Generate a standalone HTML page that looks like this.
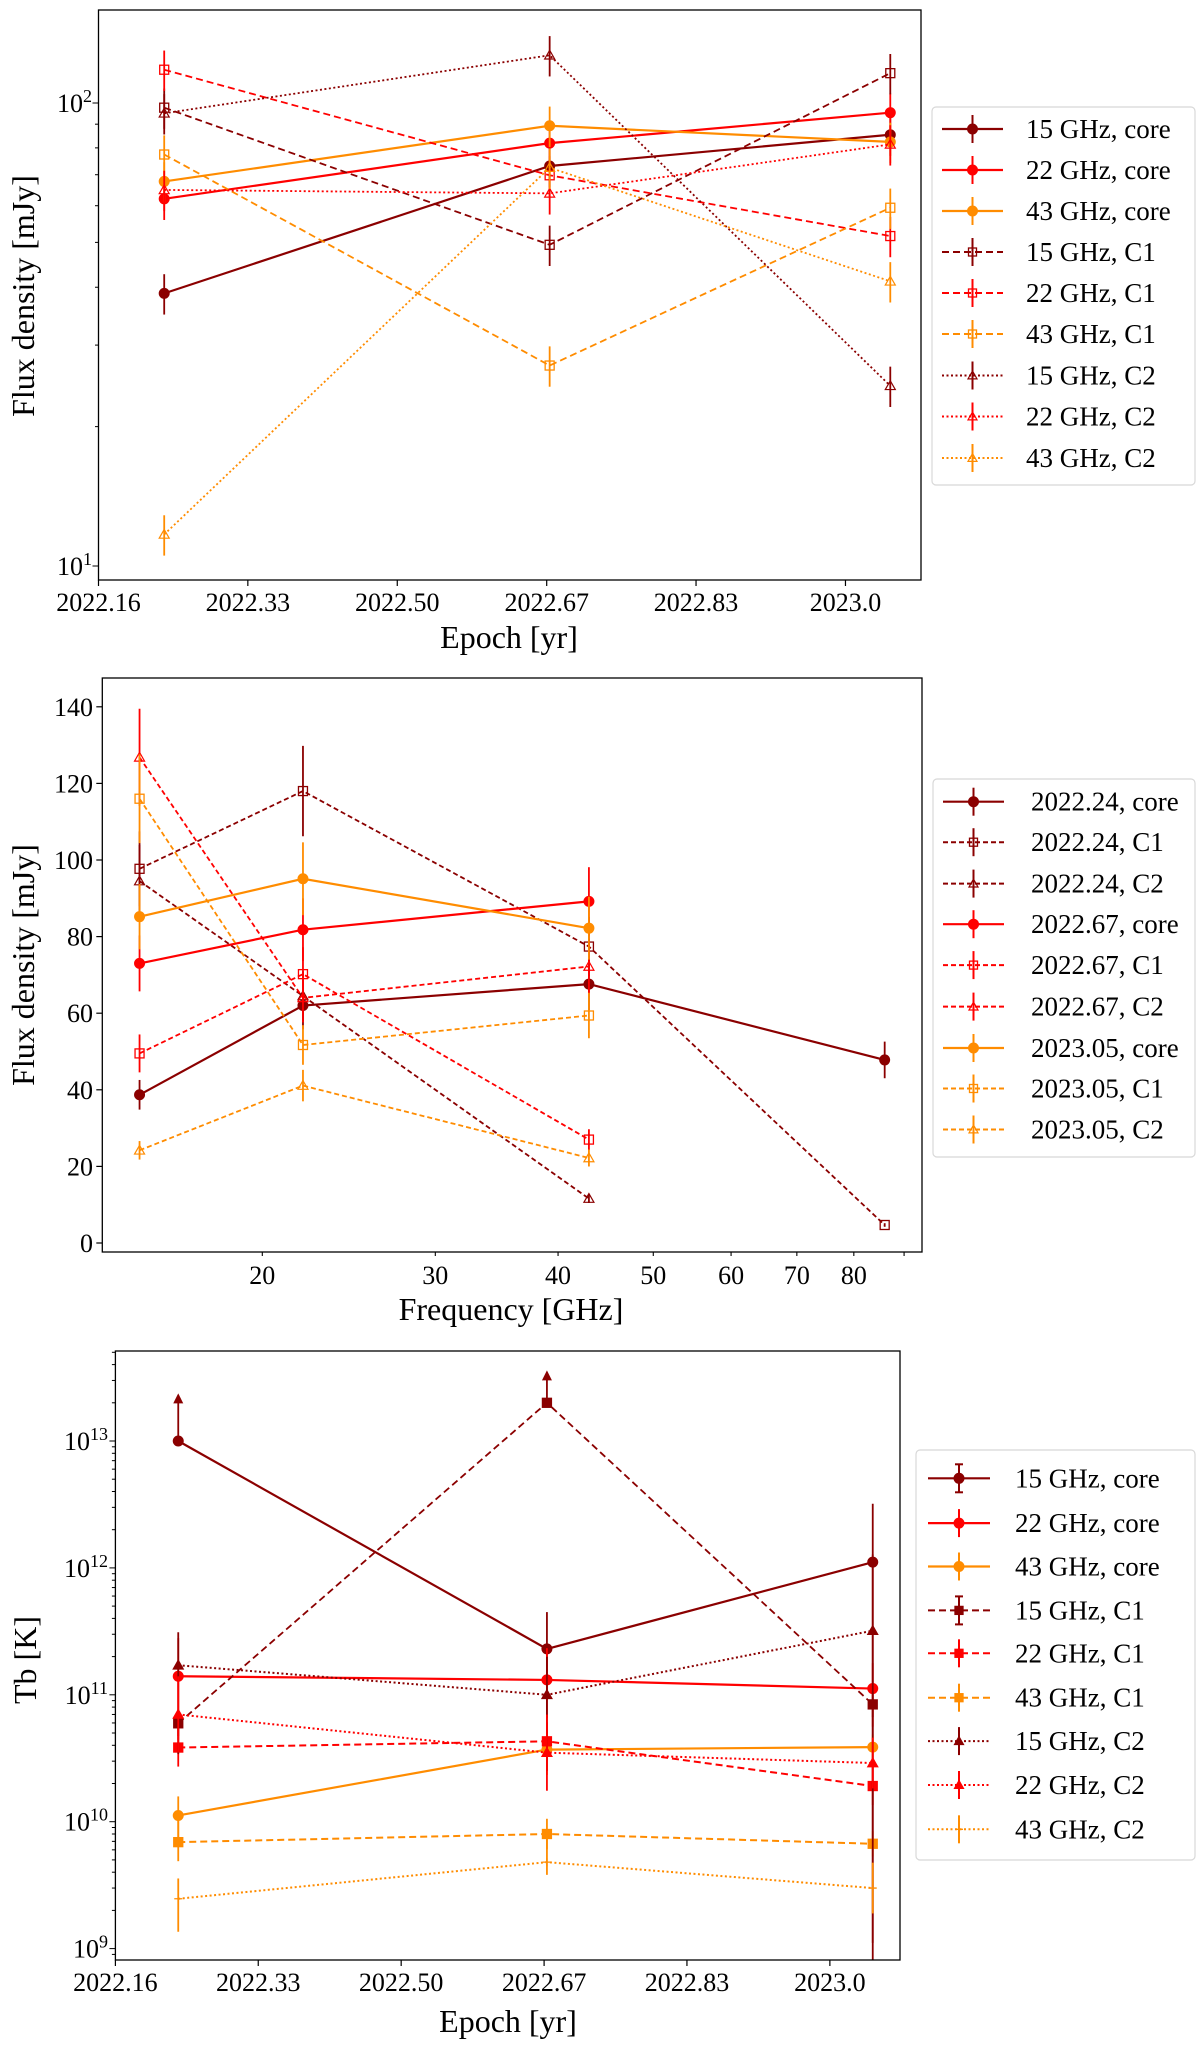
<!DOCTYPE html>
<html><head><meta charset="utf-8">
<style>
html,body{margin:0;padding:0;background:#fff;}
svg{display:block;}
svg text{font-family:"Liberation Serif","DejaVu Serif",serif;}
</style></head>
<body>
<svg id="fig" width="1200" height="2053" viewBox="0 0 1200 2053" xmlns="http://www.w3.org/2000/svg" font-family="Liberation Serif, serif">
<rect width="1200" height="2053" fill="#fff"/>
</svg>
<script>
// ---------- Panel 1 data: flux density vs epoch ----------
const p1Epochs = [2022.24, 2022.67, 2023.05];
const p1Core15 = [38.8, 73.1, 85.4];
const p1Core22 = [62.1, 81.9, 95.3];
const p1Core43 = [67.7, 89.3, 82.4];
const p1C1_15 = [97.7, 49.4, 116];
const p1C1_22 = [118, 69.8, 51.6];
const p1C1_43 = [77.4, 27.1, 59.4];
const p1C2_15 = [95, 126.8, 24.5];
const p1C2_22 = [64.9, 63.8, 81.4];
const p1C2_43 = [11.7, 72.5, 41.2];
const p1XTicks = [2022.1667, 2022.3333, 2022.5, 2022.6667, 2022.8333, 2023.0];
const p1XTickLabels = ["2022.16", "2022.33", "2022.50", "2022.67", "2022.83", "2023.0"];
const fluxRelErr = 0.1;

// ---------- Panel 2 data: flux density vs frequency ----------
const p2Freqs = [15, 22, 43, 86];
const p2E24Core = [38.7, 62, 67.6, 47.8];
const p2E24C1 = [97.7, 118, 77.4, 4.7];
const p2E24C2 = [94.5, 64.5, 11.6];
const p2E67Core = [73, 81.8, 89.2];
const p2E67C1 = [49.5, 70.2, 27];
const p2E67C2 = [126.8, 64, 72.2];
const p2E05Core = [85.2, 95.1, 82.2];
const p2E05C1 = [116, 51.7, 59.4];
const p2E05C2 = [24.2, 41.1, 22.2];
const p2XTicks = [20, 30, 40, 50, 60, 70, 80, 90];
const p2XTickLabels = ["20", "30", "40", "50", "60", "70", "80", ""];
const p2YTicks = [0, 20, 40, 60, 80, 100, 120, 140];

// ---------- Panel 3 data: brightness temperature vs epoch ----------
const p3Epochs = [2022.24, 2022.67, 2023.05];
const p3Core15 = [1.0e13, 2.3e11, 1.11e12];
const p3Core22 = [1.4e11, 1.31e11, 1.12e11];
const p3Core43 = [1.12e10, 3.7e10, 3.87e10];
const p3C1_15 = [5.96e10, 2.0e13, 8.4e10];
const p3C1_22 = [3.84e10, 4.3e10, 1.91e10];
const p3C1_43 = [6.9e9, 8.0e9, 6.7e9];
const p3C2_15 = [1.71e11, 1.0e11, 3.2e11];
const p3C2_22 = [7.0e10, 3.5e10, 2.9e10];
const p3C2_43 = [2.47e9, 4.8e9, 3.0e9];
// error bars in dex (up / down) and lower-limit flags
const p3Core15Up = [0.36, 0.29, 0.46], p3Core15Dn = [0, 0.4, 3], p3Core15Lim = [1, 0, 0];
const p3Core22Up = [0.3, 0.25, 0.2], p3Core22Dn = [0.5, 0.3, 0.3];
const p3Core43Up = [0.15, 0.15, 0.1], p3Core43Dn = [0.2, 0.2, 0.1];
const p3C1_15Up = [0.1, 0.24, 0.1], p3C1_15Dn = [0.1, 0, 0.1], p3C1_15Lim = [0, 1, 0];
const p3C1_22Up = [0.15, 0.15, 0.15], p3C1_22Dn = [0.15, 0.15, 0.15];
const p3C1_43Up = [0.2, 0.12, 0.1], p3C1_43Dn = [0.15, 0.12, 0.1];
const p3C2_15Up = [0.26, 0.3, 0.6], p3C2_15Dn = [0.7, 0.6, 3];
const p3C2_22Up = [0.3, 0.3, 0.2], p3C2_22Dn = [0.3, 0.3, 0.2];
const p3C2_43Up = [0.16, 0.2, 0.2], p3C2_43Dn = [0.26, 0.1, 0.2];
const p3XTicks = [2022.1667, 2022.3333, 2022.5, 2022.6667, 2022.8333, 2023.0];
const p3XTickLabels = ["2022.16", "2022.33", "2022.50", "2022.67", "2022.83", "2023.0"];
const p3YTickExp = [9, 10, 11, 12, 13];

const NS = "http://www.w3.org/2000/svg";
const svg = document.getElementById("fig");
const DR = "#8b0000", RD = "#ff0000", OR = "#ff8c00";
const FONT = '"Liberation Serif", serif';
function mk(tag, attrs, parent) {
  const e = document.createElementNS(NS, tag);
  for (const k in attrs) e.setAttribute(k, attrs[k]);
  (parent || svg).appendChild(e);
  return e;
}
function marker(g, type, x, y, color, filled, r) {
  r = r || 5;
  let m;
  if (type === "o") m = mk("circle", {cx: x, cy: y, r: r, fill: color, stroke: color, "stroke-width": 1}, g);
  else if (type === "s") m = mk("rect", {x: x - r + 0.5, y: y - r + 0.5, width: 2 * r - 1, height: 2 * r - 1, fill: filled ? color : "none", stroke: color, "stroke-width": 1.3}, g);
  else if (type === "^") m = mk("polygon", {points: `${x},${y - r} ${x - r},${y + r * 0.75} ${x + r},${y + r * 0.75}`, fill: filled ? color : "none", stroke: color, "stroke-width": 1.2}, g);
  else m = mk("path", {d: `M${x - 4},${y}H${x + 4}M${x},${y - 4}V${y + 4}`, stroke: color, "stroke-width": 1.3}, g);
  return m;
}
const dashes = {solid: "", dashed: "7,4", dotted: "2,2.5", dashed2: "5,3"};
function frame(L, T, R, B, name) {
  const f = mk("rect", {x: L, y: T, width: R - L, height: B - T, fill: "none", stroke: "#000", "stroke-width": 1.3});
  
  
}
function clip(id, L, T, R, B) {
  const cp = mk("clipPath", {id: id});
  mk("rect", {x: L, y: T, width: R - L, height: B - T}, cp);
}
function text(str, x, y, size, anchor, name, rot) {
  const t = mk("text", {x: x, y: y, "font-size": size, "text-anchor": anchor || "middle", fill: "#000", "font-family": FONT});
  if (rot) t.setAttribute("transform", `rotate(-90 ${x} ${y})`);
  t.textContent = str;
  
  
  return t;
}
function powLabel(exp, x, y, name) {
  const t = mk("text", {x: x, y: y, "font-size": 26, "text-anchor": "end", fill: "#000", "font-family": FONT});
  
  
  const a = mk("tspan", {}, t); a.textContent = "10";
  const b = mk("tspan", {dy: -10, "font-size": 18}, t); b.textContent = String(exp);
}
function legend(L, T, W, H, entries, rowY, lineX0, lineX1, textX, name) {
  const g = mk("g", {});
  
  
  mk("rect", {x: L, y: T, width: W, height: H, rx: 4, fill: "#fff", stroke: "#d8d8d8", "stroke-width": 1.2}, g);
  entries.forEach((e, i) => {
    const y = rowY[i];
    const eg = mk("g", {}, g);
    
    
    mk("line", {x1: lineX0, y1: y, x2: lineX1, y2: y, stroke: e.color, "stroke-width": e.lw || 2, "stroke-dasharray": dashes[e.ls]}, eg);
    const cx = (lineX0 + lineX1) / 2;
    mk("line", {x1: cx, y1: y - 14, x2: cx, y2: y + 14, stroke: e.color, "stroke-width": 2}, eg);
    if (e.cap) { mk("line", {x1: cx - 4, y1: y - 14, x2: cx + 4, y2: y - 14, stroke: e.color, "stroke-width": 2}, eg); mk("line", {x1: cx - 4, y1: y + 14, x2: cx + 4, y2: y + 14, stroke: e.color, "stroke-width": 2}, eg); }
    marker(eg, e.m, cx, y, e.color, e.filled, e.m === "o" ? 5 : 4.5);
    const t = mk("text", {x: textX, y: y + 9, "font-size": 27, fill: "#000", "font-family": FONT}, eg);
    t.textContent = e.label;
  });
}

// ===================== PANEL 1 =====================
(function () {
  const L = 98.5, R = 921, T = 10, B = 580;
  const x = v => 98.5 + (v - 2022.1667) * 896.4;
  const y = v => 566 - 463 * Math.log10(v / 10);
  clip("c1", L, T, R, B);
  const series = [
    {d: p1Core15, c: DR, ls: "solid", m: "o", f: true, n: "15 GHz, core", lw: 2.2},
    {d: p1Core22, c: RD, ls: "solid", m: "o", f: true, n: "22 GHz, core", lw: 2.2},
    {d: p1Core43, c: OR, ls: "solid", m: "o", f: true, n: "43 GHz, core", lw: 2.2},
    {d: p1C1_15, c: DR, ls: "dashed", m: "s", f: false, n: "15 GHz, C1"},
    {d: p1C1_22, c: RD, ls: "dashed", m: "s", f: false, n: "22 GHz, C1"},
    {d: p1C1_43, c: OR, ls: "dashed", m: "s", f: false, n: "43 GHz, C1"},
    {d: p1C2_15, c: DR, ls: "dotted", m: "^", f: false, n: "15 GHz, C2"},
    {d: p1C2_22, c: RD, ls: "dotted", m: "^", f: false, n: "22 GHz, C2"},
    {d: p1C2_43, c: OR, ls: "dotted", m: "^", f: false, n: "43 GHz, C2"}];
  const pg = mk("g", {"clip-path": "url(#c1)"});
  
  
  series.forEach(s => {
    const g = mk("g", {}, pg);
    
    
    const pts = s.d.map((v, i) => `${x(p1Epochs[i])},${y(v)}`).join(" ");
    mk("polyline", {points: pts, fill: "none", stroke: s.c, "stroke-width": s.lw || 1.8, "stroke-dasharray": dashes[s.ls]}, g);
    s.d.forEach((v, i) => {
      const px = x(p1Epochs[i]);
      mk("line", {x1: px, y1: y(v * (1 + fluxRelErr)), x2: px, y2: y(v * (1 - fluxRelErr)), stroke: s.c, "stroke-width": 1.8}, g);
      const m = marker(g, s.m, px, y(v), s.c, s.f);
      
      
    });
  });
  frame(L, T, R, B, "flux-epoch-axes");
  p1XTicks.forEach((t, i) => {
    mk("line", {x1: x(t), y1: B, x2: x(t), y2: B + 6, stroke: "#000", "stroke-width": 1.2});
    text(p1XTickLabels[i], x(t), 611, 26, "middle", "x-tick-label");
  });
  for (let dec = 10; dec <= 100; dec *= 10) for (let k = 1; k < 10; k++) {
    const v = dec * k; const yy = y(v);
    if (yy < T || yy > B) continue;
    mk("line", {x1: L - (k === 1 ? 6 : 3.5), y1: yy, x2: L, y2: yy, stroke: "#000", "stroke-width": 1});
  }
  powLabel(1, 92, 575, "y-tick-label");
  powLabel(2, 92, 112, "y-tick-label");
  text("Epoch [yr]", 509, 648, 32, "middle", "x-axis-title");
  text("Flux density [mJy]", 34, 296, 32, "middle", "y-axis-title", true);
  legend(932, 107, 263, 378, series.map(s => ({color: s.c, ls: s.ls, m: s.m, filled: s.f, label: s.n, lw: s.lw})),
    [129, 170, 211, 252, 293, 334, 375.5, 416.5, 458], 942, 1003, 1026, "flux-epoch-legend");
})();

// ===================== PANEL 2 =====================
(function () {
  const L = 102.3, R = 922, T = 678, B = 1252;
  const x = f => 262.3 + 982.5 * Math.log10(f / 20);
  const y = v => 1243 - v * 3.830;
  clip("c2", L, T, R, B);
  const series = [
    {d: p2E24Core, c: DR, ls: "solid", m: "o", f: true, n: "2022.24, core", lw: 2.2},
    {d: p2E24C1, c: DR, ls: "dashed2", m: "s", f: false, n: "2022.24, C1"},
    {d: p2E24C2, c: DR, ls: "dashed2", m: "^", f: false, n: "2022.24, C2"},
    {d: p2E67Core, c: RD, ls: "solid", m: "o", f: true, n: "2022.67, core", lw: 2.2},
    {d: p2E67C1, c: RD, ls: "dashed2", m: "s", f: false, n: "2022.67, C1"},
    {d: p2E67C2, c: RD, ls: "dashed2", m: "^", f: false, n: "2022.67, C2"},
    {d: p2E05Core, c: OR, ls: "solid", m: "o", f: true, n: "2023.05, core", lw: 2.2},
    {d: p2E05C1, c: OR, ls: "dashed2", m: "s", f: false, n: "2023.05, C1"},
    {d: p2E05C2, c: OR, ls: "dashed2", m: "^", f: false, n: "2023.05, C2"}];
  const pg = mk("g", {"clip-path": "url(#c2)"});
  
  
  series.forEach(s => {
    const g = mk("g", {}, pg);
    
    
    const pts = s.d.map((v, i) => `${x(p2Freqs[i])},${y(v)}`).join(" ");
    mk("polyline", {points: pts, fill: "none", stroke: s.c, "stroke-width": s.lw || 1.8, "stroke-dasharray": dashes[s.ls]}, g);
    s.d.forEach((v, i) => {
      const px = x(p2Freqs[i]);
      mk("line", {x1: px, y1: y(v * (1 + fluxRelErr)), x2: px, y2: y(v * (1 - fluxRelErr)), stroke: s.c, "stroke-width": 1.8}, g);
      const m = marker(g, s.m, px, y(v), s.c, s.f);
      
      
    });
  });
  frame(L, T, R, B, "flux-frequency-axes");
  p2XTicks.forEach((t, i) => {
    mk("line", {x1: x(t), y1: B, x2: x(t), y2: B + 4, stroke: "#000", "stroke-width": 1.1});
    if (p2XTickLabels[i]) text(p2XTickLabels[i], x(t), 1284, 26, "middle", "x-tick-label");
  });
  p2YTicks.forEach(t => {
    mk("line", {x1: L - 6, y1: y(t), x2: L, y2: y(t), stroke: "#000", "stroke-width": 1.2});
    text(String(t), 93, y(t) + 9, 26, "end", "y-tick-label");
  });
  text("Frequency [GHz]", 511, 1320, 32, "middle", "x-axis-title");
  text("Flux density [mJy]", 34, 965, 32, "middle", "y-axis-title", true);
  legend(933, 779, 262, 378, series.map(s => ({color: s.c, ls: s.ls, m: s.m, filled: s.f, label: s.n, lw: s.lw})),
    [801.7, 842.2, 883.6, 924.2, 965.1, 1006.6, 1048, 1088.5, 1129.5], 943, 1004, 1031, "flux-frequency-legend");
})();

// ===================== PANEL 3 =====================
(function () {
  const L = 115.4, R = 900, T = 1351, B = 1960;
  const x = v => 115.4 + (v - 2022.1667) * 857.4;
  const ly = e => 1948.6 - 126.9 * (e - 9);
  const y = v => ly(Math.log10(v));
  clip("c3", L, T, R, B);
  const series = [
    {d: p3Core15, up: p3Core15Up, dn: p3Core15Dn, lim: p3Core15Lim, c: DR, ls: "solid", m: "o", n: "15 GHz, core", lw: 2.2, cap: true},
    {d: p3Core22, up: p3Core22Up, dn: p3Core22Dn, c: RD, ls: "solid", m: "o", n: "22 GHz, core", lw: 2.2},
    {d: p3Core43, up: p3Core43Up, dn: p3Core43Dn, c: OR, ls: "solid", m: "o", n: "43 GHz, core", lw: 2.2},
    {d: p3C1_15, up: p3C1_15Up, dn: p3C1_15Dn, lim: p3C1_15Lim, c: DR, ls: "dashed", m: "s", n: "15 GHz, C1", cap: true},
    {d: p3C1_22, up: p3C1_22Up, dn: p3C1_22Dn, c: RD, ls: "dashed", m: "s", n: "22 GHz, C1", lw: 2},
    {d: p3C1_43, up: p3C1_43Up, dn: p3C1_43Dn, c: OR, ls: "dashed", m: "s", n: "43 GHz, C1", lw: 2},
    {d: p3C2_15, up: p3C2_15Up, dn: p3C2_15Dn, c: DR, ls: "dotted", m: "^", n: "15 GHz, C2", lw: 2},
    {d: p3C2_22, up: p3C2_22Up, dn: p3C2_22Dn, c: RD, ls: "dotted", m: "^", n: "22 GHz, C2", lw: 2},
    {d: p3C2_43, up: p3C2_43Up, dn: p3C2_43Dn, c: OR, ls: "dotted", m: "+", n: "43 GHz, C2", lw: 2}];
  const pg = mk("g", {"clip-path": "url(#c3)"});
  
  
  series.forEach(s => {
    const g = mk("g", {}, pg);
    
    
    const pts = s.d.map((v, i) => `${x(p3Epochs[i])},${y(v)}`).join(" ");
    mk("polyline", {points: pts, fill: "none", stroke: s.c, "stroke-width": s.lw || 1.8, "stroke-dasharray": dashes[s.ls]}, g);
    s.d.forEach((v, i) => {
      const px = x(p3Epochs[i]), e = Math.log10(v);
      const isLim = s.lim && s.lim[i];
      const yt = ly(e + s.up[i]), yb = ly(e - s.dn[i]);
      mk("line", {x1: px, y1: yt, x2: px, y2: yb, stroke: s.c, "stroke-width": 1.8}, g);
      if (isLim) mk("polygon", {points: `${px},${yt - 2} ${px - 5},${yt + 8} ${px + 5},${yt + 8}`, fill: s.c}, g);
      const m = marker(g, s.m, px, y(v), s.c, true);
      
      
    });
  });
  frame(L, T, R, B, "tb-epoch-axes");
  p3XTicks.forEach((t, i) => {
    mk("line", {x1: x(t), y1: B, x2: x(t), y2: B + 6, stroke: "#000", "stroke-width": 1.2});
    text(p3XTickLabels[i], x(t), 1991, 26, "middle", "x-tick-label");
  });
  for (let e = 8; e <= 13; e++) for (let k = 1; k < 10; k++) {
    const yy = ly(e + Math.log10(k));
    if (yy < T || yy > B) continue;
    mk("line", {x1: L - (k === 1 ? 6 : 3.5), y1: yy, x2: L, y2: yy, stroke: "#000", "stroke-width": 1});
  }
  p3YTickExp.forEach(e => powLabel(e, 108, ly(e) + 9, "y-tick-label"));
  text("Epoch [yr]", 508, 2032, 32, "middle", "x-axis-title");
  text("Tb [K]", 36, 1660, 32, "middle", "y-axis-title", true);
  legend(916, 1450, 279, 410, series.map(s => ({color: s.c, ls: s.ls, m: s.m, filled: true, label: s.n, lw: s.lw, cap: s.cap})),
    [1478.3, 1523.1, 1566.5, 1610.4, 1653.3, 1697.7, 1741.1, 1785, 1829.3], 928, 990, 1015, "tb-epoch-legend");
})();
</script>
</body></html>
